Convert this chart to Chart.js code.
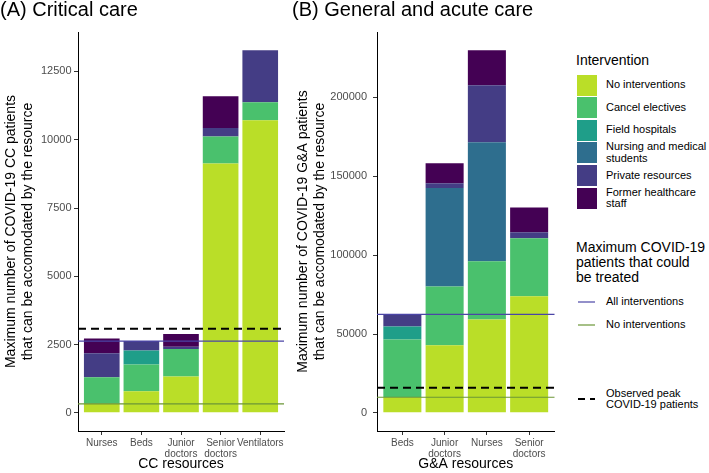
<!DOCTYPE html>
<html>
<head>
<meta charset="utf-8">
<script src="https://cdn.jsdelivr.net/npm/chart.js@4.4.1/dist/chart.umd.min.js"></script>
<style>
  body { margin: 0; background: #fff; font-family: "Liberation Sans", Arial, sans-serif; }
  #wrap { position: relative; width: 709px; height: 473px; overflow: hidden; }
  canvas { position: absolute; top: 0; }
  #chartA { left: 0; }
  #chartB { left: 292px; }
  .lgTitle { position: absolute; left: 576px; font-size: 14px; line-height: 15px; color: #000; white-space: nowrap; }
  .lgText { position: absolute; left: 606px; width: 105px; font-size: 11px; line-height: 11.5px; color: #000;
            display: flex; align-items: center; }
  .lgSwatch { position: absolute; left: 577px; width: 20px; }
</style>
</head>
<body>
<div id="wrap">
  <canvas id="chartA" width="292" height="473"></canvas>
  <canvas id="chartB" width="270" height="473"></canvas>
  <div id="legend"></div>
</div>
<script>
// categories
const ccResources = ['Nurses', 'Beds', 'Junior doctors', 'Senior doctors', 'Ventilators'];
const gaResources = ['Beds', 'Junior doctors', 'Nurses', 'Senior doctors'];
const interventions = ['No interventions', 'Cancel electives', 'Field hospitals',
  'Nursing and medical students', 'Private resources', 'Former healthcare staff'];
const interventionColours = ['#BADE28', '#4AC16D', '#1F9E89', '#2E6E8E', '#443D85', '#440154'];

// extra CC patients from each intervention (stacked)
const ccNoInterventions = [330, 790, 1335, 9130, 10710];
const ccCancelElectives = [970, 985, 1000, 990, 660];
const ccFieldHospitals = [0, 505, 0, 0, 0];
const ccStudents = [0, 0, 0, 0, 0];
const ccPrivate = [880, 350, 90, 305, 1910];
const ccFormerStaff = [540, 0, 465, 1165, 0];

// extra G&A patients from each intervention (stacked)
const gaNoInterventions = [9900, 42900, 59200, 74000];
const gaCancelElectives = [36600, 37300, 36900, 36700];
const gaFieldHospitals = [8200, 0, 0, 0];
const gaStudents = [0, 62400, 75500, 0];
const gaPrivate = [7800, 3000, 36200, 3800];
const gaFormerStaff = [0, 12700, 22200, 15700];

// reference lines
const ccAllInterventions = 2630, ccNoInterventionsLine = 330, ccObservedPeak = 3075;
const gaAllInterventions = 62500, gaNoInterventionsLine = 9900, gaObservedPeak = 15900;

const ccTicks = [0, 2500, 5000, 7500, 10000, 12500];
const gaTicks = [0, 50000, 100000, 150000, 200000];

const lineStyles = {
  all: { color: '#4B45A6', width: 1.2, dash: [] },
  none: { color: '#6B9636', width: 1.2, dash: [] },
  peak: { color: '#000000', width: 2, dash: [8, 5] }
};

Chart.defaults.font.family = '"Liberation Sans", Arial, sans-serif';

const refLines = {
  id: 'refLines',
  afterDatasetsDraw(chart, args, opts) {
    const ctx = chart.ctx, a = chart.chartArea, y = chart.scales.y;
    opts.lines.forEach(l => {
      const py = y.getPixelForValue(l.value);
      ctx.save();
      ctx.strokeStyle = l.color;
      ctx.lineWidth = l.width;
      ctx.setLineDash(l.dash);
      ctx.beginPath();
      ctx.moveTo(a.left, py);
      ctx.lineTo(a.right, py);
      ctx.stroke();
      ctx.restore();
    });
  }
};

function makeChart(id, title, yTitle, xTitle, cats, series, ticks, lines, yWidth, padRight, tickPad) {
  const totals = cats.map((c, i) => series.reduce((s, d) => s + d[i], 0));
  const top = Math.max(...totals);
  return new Chart(document.getElementById(id), {
    type: 'bar',
    data: {
      datasets: series.map((d, k) => ({
        label: interventions[k],
        data: d.map((v, i) => ({ x: i, y: v })),
        backgroundColor: interventionColours[k],
        borderWidth: 0,
        barPercentage: 0.9,
        categoryPercentage: 1
      }))
    },
    options: {
      responsive: false,
      animation: false,
      devicePixelRatio: 1,
      layout: { padding: { left: 0, right: padRight, top: 0, bottom: 0 } },
      plugins: {
        legend: { display: false },
        tooltip: { enabled: false },
        title: {
          display: true, text: title, align: 'start', color: '#000',
          font: { size: 20, weight: 'normal', lineHeight: 1 },
          padding: { top: 0, bottom: 12 }
        },
        refLines: { lines: lines }
      },
      scales: {
        x: {
          type: 'linear', stacked: true, offset: false,
          min: -0.6, max: cats.length - 0.4,
          afterBuildTicks: s => { s.ticks = cats.map((c, i) => ({ value: i })); },
          afterFit: s => { s.height = 42; s.paddingLeft = 0; s.paddingRight = 0; },
          ticks: {
            autoSkip: false, maxRotation: 0, minRotation: 0, color: '#4D4D4D', padding: 3,
            font: { size: 10, lineHeight: 1.1 },
            callback: v => cats[v].split(' ')
          },
          grid: { offset: false, drawOnChartArea: false, drawTicks: true, tickLength: 4, color: '#333333' },
          border: { display: true, color: '#000', width: 1 },
          title: { display: true, text: xTitle, color: '#000', font: { size: 14 }, padding: { top: 0, bottom: 0 } }
        },
        y: {
          stacked: true,
          min: -top * 0.05, max: top * 1.05,
          afterBuildTicks: s => { s.ticks = ticks.map(v => ({ value: v })); },
          afterFit: s => { s.width = yWidth; s.paddingTop = 0; s.paddingBottom = 0; },
          ticks: { color: '#4D4D4D', padding: tickPad, font: { size: 11 }, callback: v => String(v) },
          grid: { drawOnChartArea: false, drawTicks: true, tickLength: 4, color: '#333333' },
          border: { display: true, color: '#000', width: 1 },
          title: { display: true, text: yTitle, color: '#000', font: { size: 14 }, padding: { top: 3, bottom: 0 } }
        }
      }
    },
    plugins: [refLines]
  });
}

makeChart('chartA', '(A) Critical care',
  ['Maximum number of COVID-19 CC patients', 'that can be accomodated by the resource'],
  'CC resources', ccResources,
  [ccNoInterventions, ccCancelElectives, ccFieldHospitals, ccStudents, ccPrivate, ccFormerStaff],
  ccTicks,
  [Object.assign({ value: ccAllInterventions }, lineStyles.all),
   Object.assign({ value: ccNoInterventionsLine }, lineStyles.none),
   Object.assign({ value: ccObservedPeak }, lineStyles.peak)],
  78, 8, 2.5);

makeChart('chartB', '(B) General and acute care',
  ['Maximum number of COVID-19 G&A patients', 'that can be accomodated by the resource'],
  'G&A resources', gaResources,
  [gaNoInterventions, gaCancelElectives, gaFieldHospitals, gaStudents, gaPrivate, gaFormerStaff],
  gaTicks,
  [Object.assign({ value: gaAllInterventions }, lineStyles.all),
   Object.assign({ value: gaNoInterventionsLine }, lineStyles.none),
   Object.assign({ value: gaObservedPeak }, lineStyles.peak)],
  85, 7.5, 6);

// legend
const lg = document.getElementById('legend');
function add(html) { lg.insertAdjacentHTML('beforeend', html); }
add('<div class="lgTitle" style="top:53px">Intervention</div>');
interventions.forEach((name, i) => {
  const t = 74.5 + i * 22.6;
  add(`<div class="lgSwatch" style="top:${t}px;height:21px;background:${interventionColours[i]}"></div>`);
  add(`<div class="lgText" style="top:${t}px;height:21px">${name}</div>`);
});
add('<div class="lgTitle" style="top:240px">Maximum COVID-19<br>patients that could<br>be treated</div>');
const keyLines = [
  ['All interventions', lineStyles.all, 302],
  ['No interventions', lineStyles.none, 325],
  ['Observed peak COVID-19 patients', lineStyles.peak, 399]
];
keyLines.forEach(([name, st, cy]) => {
  add(`<svg style="position:absolute;left:577px;top:${cy - 5}px" width="20" height="10">
    <line x1="1" y1="5" x2="18" y2="5" stroke="${st.color}" stroke-width="${st.width}"
      stroke-dasharray="${st.dash.length ? '7 5' : 'none'}"/></svg>`);
  add(`<div class="lgText" style="top:${cy - 12}px;height:24px;width:100px">${name}</div>`);
});
</script>
</body>
</html>
